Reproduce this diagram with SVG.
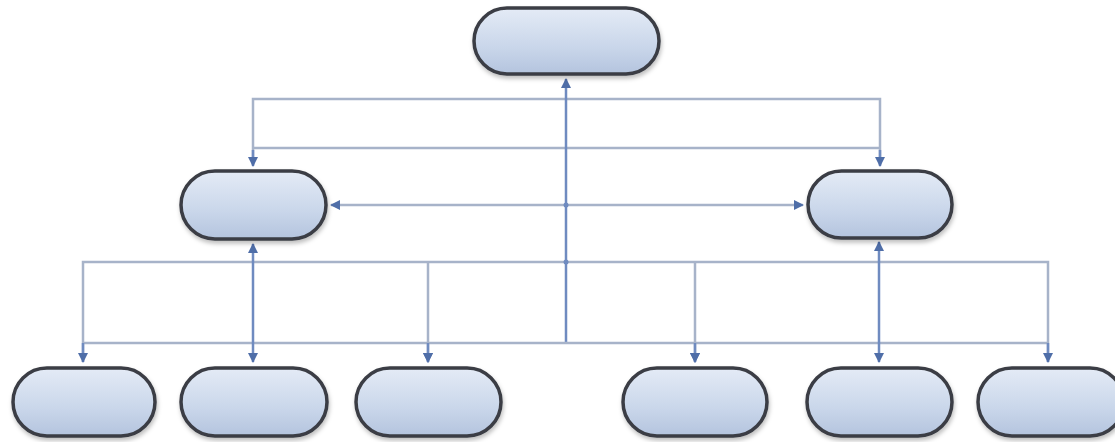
<svg xmlns="http://www.w3.org/2000/svg" width="1115" height="442" viewBox="0 0 1115 442">
<style>
.node{fill:url(#g);stroke:#3a3d44;stroke-width:3.5;filter:url(#sh)}
.ln{fill:none;stroke:#a7b3c9;stroke-width:2.5}
.vl{fill:none;stroke:#6f8bc0;stroke-width:2.5}
</style>
<defs>
<linearGradient id="g" x1="0" y1="0" x2="0" y2="1">
<stop offset="0" stop-color="#e4ebf6"/>
<stop offset="0.6" stop-color="#c9d6ea"/>
<stop offset="1" stop-color="#b4c4de"/>
</linearGradient>
<filter id="sh" x="-10%" y="-10%" width="125%" height="135%">
<feDropShadow dx="1" dy="3" stdDeviation="2" flood-color="#000" flood-opacity="0.25"/>
</filter>
<marker id="a" viewBox="0 0 10 10" refX="9" refY="5" markerWidth="4" markerHeight="4" orient="auto-start-reverse" markerUnits="strokeWidth">
<path d="M0,0 L10,5 L0,10 z" fill="#4f6ea8"/>
</marker>
</defs>
<rect width="1115" height="442" fill="#ffffff"/>
<g id="connectors">
<polyline class="ln" points="253,165 253,99 880,99 880,165"/>
<line class="ln" x1="253" y1="148" x2="880" y2="148"/>
<line class="vl" x1="566" y1="343" x2="566" y2="79" marker-end="url(#a)"/>
<line class="ln" x1="331" y1="205" x2="803" y2="205" marker-start="url(#a)" marker-end="url(#a)"/>
<line class="vl" x1="253" y1="150" x2="253" y2="166" marker-end="url(#a)"/>
<line class="vl" x1="880" y1="150" x2="880" y2="166" marker-end="url(#a)"/>
<polyline class="ln" points="83,362 83,262 1048,262 1048,362"/>
<line class="ln" x1="83" y1="343" x2="1048" y2="343"/>
<line class="vl" x1="253" y1="362" x2="253" y2="244" marker-start="url(#a)" marker-end="url(#a)"/>
<line class="vl" x1="879" y1="362" x2="879" y2="242" marker-start="url(#a)" marker-end="url(#a)"/>
<line class="ln" x1="428" y1="262" x2="428" y2="362" marker-end="url(#a)"/>
<line class="ln" x1="695" y1="262" x2="695" y2="362" marker-end="url(#a)"/>
<line class="vl" x1="83" y1="343" x2="83" y2="362" marker-end="url(#a)"/>
<line class="vl" x1="1048" y1="343" x2="1048" y2="362" marker-end="url(#a)"/>
<line class="vl" x1="428" y1="343" x2="428" y2="362" marker-end="url(#a)"/>
<line class="vl" x1="695" y1="343" x2="695" y2="362" marker-end="url(#a)"/>
<circle cx="566" cy="205" r="2.5" fill="#6f8bc0"/>
<circle cx="566" cy="262" r="2.5" fill="#6f8bc0"/>
</g>
<g id="top"><rect class="node" x="474" y="8" width="185" height="66" rx="33"/></g>
<g id="midLeft"><rect class="node" x="181" y="171" width="145" height="68" rx="34"/></g>
<g id="midRight"><rect class="node" x="808" y="171" width="144" height="67" rx="33.5"/></g>
<g id="b1"><rect class="node" x="13" y="368" width="142" height="68" rx="34"/></g>
<g id="b2"><rect class="node" x="181" y="368" width="146" height="68" rx="34"/></g>
<g id="b3"><rect class="node" x="356" y="368" width="145" height="68" rx="34"/></g>
<g id="b4"><rect class="node" x="623" y="368" width="144" height="68" rx="34"/></g>
<g id="b5"><rect class="node" x="807" y="368" width="145" height="68" rx="34"/></g>
<g id="b6"><rect class="node" x="978" y="368" width="146" height="68" rx="34"/></g>
</svg>
